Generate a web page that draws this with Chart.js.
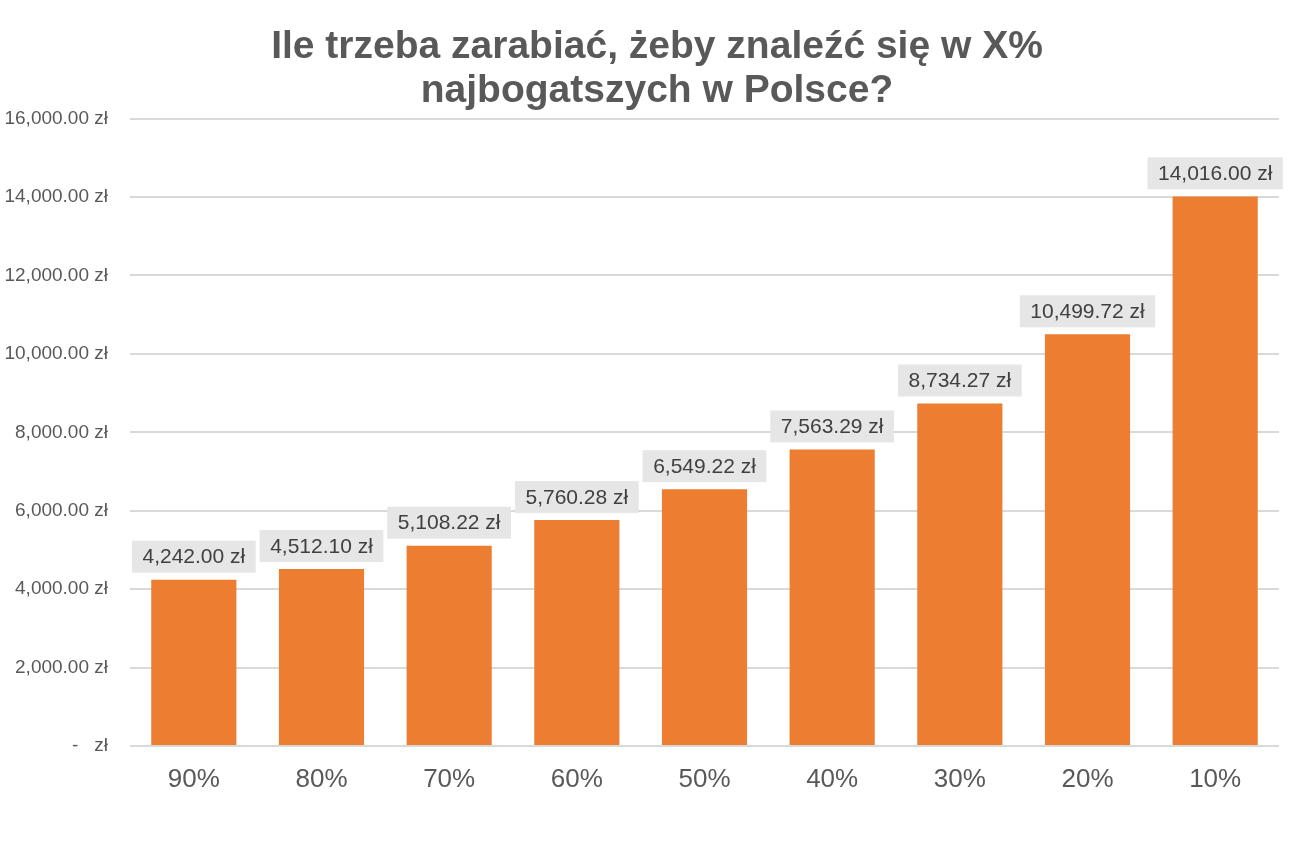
<!DOCTYPE html>
<html lang="pl">
<head>
<meta charset="utf-8">
<title>Ile trzeba zarabiać</title>
<script src="https://cdn.jsdelivr.net/npm/chart.js@4.4.1/dist/chart.umd.min.js"></script>
<style>
  html, body { margin: 0; padding: 0; background: #fff; }
  #wrap { width: 1314px; height: 856px; }
</style>
</head>
<body>
<div id="wrap"><canvas id="wykres"></canvas></div>
<script>
// Dane z wykresu
const kategorie = ["90%", "80%", "70%", "60%", "50%", "40%", "30%", "20%", "10%"];
const wartosci = [4242.00, 4512.10, 5108.22, 5760.28, 6549.22, 7563.29, 8734.27, 10499.72, 14016.00];
const tytul = ["Ile trzeba zarabiać, żeby znaleźć się w X%", "najbogatszych w Polsce?"];

const FONT = "'Liberation Sans', Arial, Helvetica, sans-serif";

// Formatowanie kwot w stylu księgowym
function formatZl(v) {
    if (v === 0) return "-   zł";
    return v.toLocaleString("en-US", { minimumFractionDigits: 2, maximumFractionDigits: 2 }) + " zł";
}

// Plugin: etykiety danych na szarym tle nad słupkami
const etykietyPlugin = {
    id: "etykiety",
    afterDatasetsDraw(chart) {
        const ctx = chart.ctx;
        const meta = chart.getDatasetMeta(0);
        ctx.save();
        ctx.font = "21px " + FONT;
        ctx.textAlign = "center";
        ctx.textBaseline = "middle";
        meta.data.forEach((bar, i) => {
            const txt = formatZl(wartosci[i]);
            const w = ctx.measureText(txt).width + 21;
            const h = 32;
            const bottom = bar.y - 7;
            ctx.fillStyle = "#E7E6E6";
            ctx.fillRect(bar.x - w / 2, bottom - h, w, h);
            ctx.fillStyle = "#404040";
            ctx.fillText(txt, bar.x, bottom - h / 2 + 1);
        });
        ctx.restore();
    }
};

new Chart(document.getElementById("wykres"), {
    type: "bar",
    data: {
        labels: kategorie,
        datasets: [{
            data: wartosci,
            backgroundColor: "#ED7D31",
            barPercentage: 0.667,
            categoryPercentage: 1.0
        }]
    },
    options: {
        responsive: true,
        maintainAspectRatio: false,
        animation: false,
        layout: { padding: 0 },
        plugins: {
            legend: { display: false },
            tooltip: { enabled: false },
            title: {
                display: true,
                text: tytul,
                color: "#595959",
                font: { family: FONT, size: 39, weight: "bold", lineHeight: 1.11 },
                padding: { top: 26, bottom: 6 }
            }
        },
        scales: {
            x: {
                grid: { display: false },
                border: { display: false },
                ticks: {
                    color: "#595959",
                    font: { family: FONT, size: 26 },
                    padding: 10
                },
                afterFit(scale) { scale.height = 110; }
            },
            y: {
                min: 0,
                max: 16000,
                grid: { color: "#D9D9D9", lineWidth: 2, drawTicks: false },
                border: { display: false },
                ticks: {
                    stepSize: 2000,
                    color: "#595959",
                    font: { family: FONT, size: 19 },
                    padding: 22,
                    callback: (v) => formatZl(v)
                },
                afterFit(scale) { scale.width = 130; }
            },
            // pusty margines po prawej, żeby tytuł był wyśrodkowany na całym płótnie
            prawy: {
                position: "right",
                min: 0,
                max: 16000,
                grid: { display: false },
                border: { display: false },
                ticks: { display: false },
                afterFit(scale) { scale.width = 35; }
            }
        }
    },
    plugins: [etykietyPlugin]
});
</script>
</body>
</html>
